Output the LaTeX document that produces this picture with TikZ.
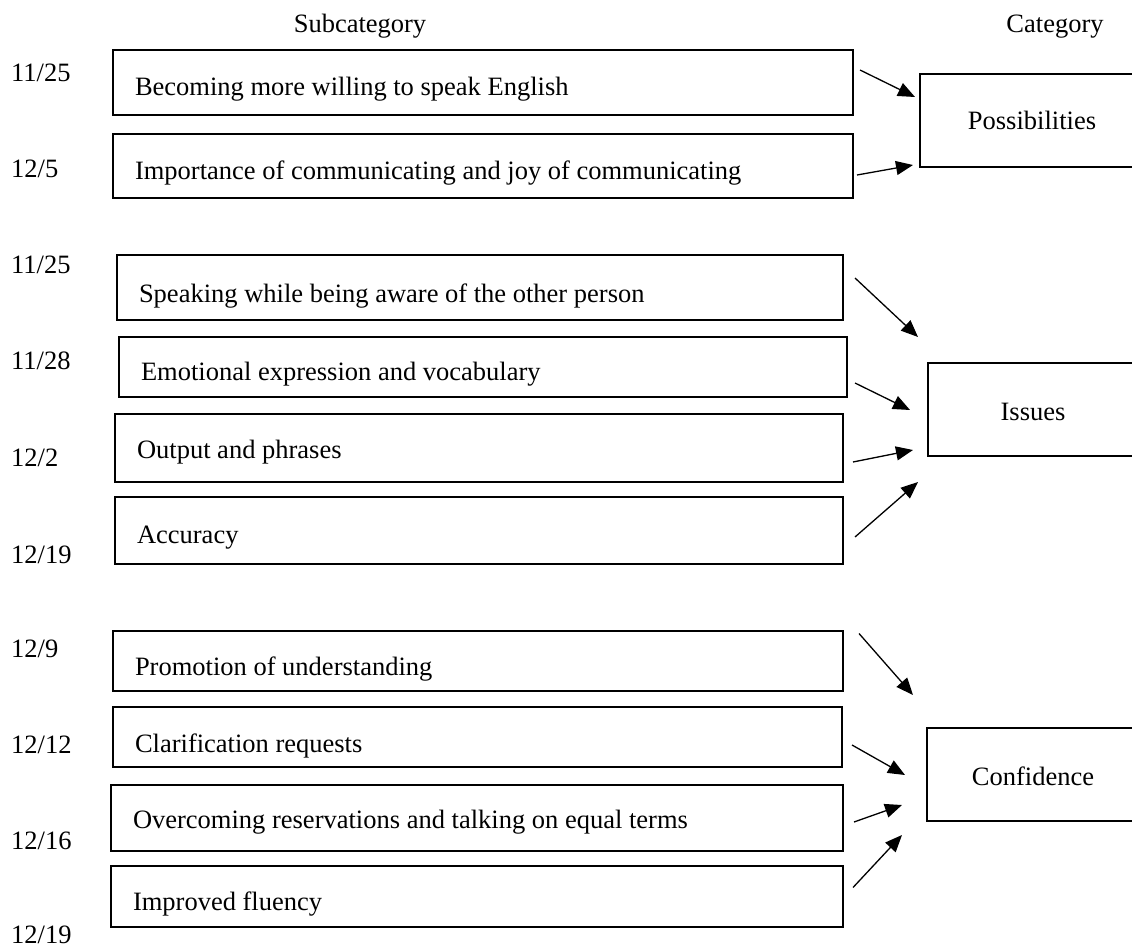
\documentclass[tikz,border=0pt]{standalone}
\usepackage{fontspec}
\setmainfont{Liberation Serif}
\usetikzlibrary{arrows.meta}
\tikzset{
	subbox/.style={draw, line width=2pt, anchor=base west, inner xsep=22pt, inner ysep=0pt, outer sep=0pt, align=flush left},
	catbox/.style={draw, line width=2pt, anchor=base west, inner xsep=0pt, inner ysep=0pt, outer sep=0pt, align=center},
	date/.style={anchor=base west, inner sep=0pt},
	arr/.style={-{Triangle[length=17pt,width=14pt]}, line width=1.3pt}
}
\begin{document}
\begin{tikzpicture}[x=1pt, y=-1pt, every node/.style={font=\fontsize{26.5}{32}\selectfont}]
		\useasboundingbox (0,0) rectangle (1132,947);
		\clip (0,0) rectangle (1132,947);
		% headings
		\node[anchor=base, inner sep=0pt] (hsub) at (360,33) {Subcategory};
		\node[anchor=base, inner sep=0pt] (hcat) at (1055,33) {Category};
		% dates
		\node[date] (d1) at (11,82) {11/25};
		\node[date] (d2) at (11,177) {12/5};
		\node[date] (d3) at (11,273) {11/25};
		\node[date] (d4) at (11,369) {11/28};
		\node[date] (d5) at (11,466) {12/2};
		\node[date] (d6) at (11,563) {12/19};
		\node[date] (d7) at (11,657) {12/9};
		\node[date] (d8) at (11,753) {12/12};
		\node[date] (d9) at (11,849) {12/16};
		\node[date] (d10) at (11,943) {12/19};
		% subcategories
		\node[subbox, text width=696pt, text height=46pt, text depth=19pt] (s1) at (113,96) {Becoming more willing to speak English};
		\node[subbox, text width=696pt, text height=45pt, text depth=19pt] (s2) at (113,179) {Importance of communicating and joy of communicating};
		\node[subbox, text width=682pt, text height=47pt, text depth=18pt] (s3) at (117,302) {Speaking while being aware of the other person};
		\node[subbox, text width=684pt, text height=43pt, text depth=17pt] (s4) at (119,380) {Emotional expression and vocabulary};
		\node[subbox, text width=684pt, text height=44pt, text depth=24pt] (s5) at (115,458) {Output and phrases};
		\node[subbox, text width=684pt, text height=46pt, text depth=21pt] (s6) at (115,543) {Accuracy};
		\node[subbox, text width=686pt, text height=44pt, text depth=16pt] (s7) at (113,675) {Promotion of understanding};
		\node[subbox, text width=685pt, text height=45pt, text depth=15pt] (s8) at (113,752) {Clarification requests};
		\node[subbox, text width=688pt, text height=43pt, text depth=23pt] (s9) at (111,828) {Overcoming reservations and talking on equal terms};
		\node[subbox, text width=688pt, text height=44pt, text depth=17pt] (s10) at (111,910) {Improved fluency};
		% categories
		\node[catbox, minimum width=224pt, text height=56pt, text depth=37pt] (pos) at (920,130) {Possibilities};
		\node[catbox, minimum width=210pt, text height=57pt, text depth=36pt] (iss) at (928,420) {Issues};
		\node[catbox, minimum width=212pt, text height=57pt, text depth=36pt] (con) at (927,785) {Confidence};
		% arrows
		\draw[arr] ([shift={(7,-12.5)}]s1.east) -- ([shift={(-5,-23.5)}]pos.west);
		\draw[arr] ([shift={(4,9)}]s2.east) -- ([shift={(-7,44.5)}]pos.west);
		\draw[arr] ([shift={(12,-9.5)}]s3.east) -- ([shift={(-10,-72.5)}]iss.west);
		\draw[arr] ([shift={(8,16)}]s4.east) -- ([shift={(-18,0.5)}]iss.west);
		\draw[arr] ([shift={(10,14)}]s5.east) -- ([shift={(-15,40.5)}]iss.west);
		\draw[arr] ([shift={(12,6.5)}]s6.east) -- ([shift={(-10,72.5)}]iss.west);
		\draw[arr] ([shift={(16,-27.5)}]s7.east) -- ([shift={(-14,-79.5)}]con.west);
		\draw[arr] ([shift={(10,8)}]s8.east) -- ([shift={(-22,0.5)}]con.west);
		\draw[arr] ([shift={(11,4)}]s9.east) -- ([shift={(-25,30.5)}]con.west);
		\draw[arr] ([shift={(10,-9)}]s10.east) -- ([shift={(-25,60.5)}]con.west);
\end{tikzpicture}
\end{document}
